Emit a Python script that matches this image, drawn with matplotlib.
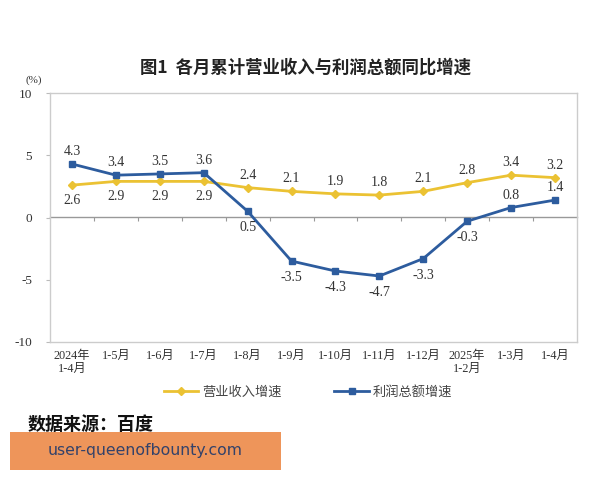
import matplotlib
matplotlib.use("Agg")
import matplotlib.pyplot as plt
from matplotlib.patches import Rectangle

categories = ["2024年\n1-4月", "1-5月", "1-6月", "1-7月", "1-8月", "1-9月", "1-10月",
              "1-11月", "1-12月", "2025年\n1-2月", "1-3月", "1-4月"]
revenue = [2.6, 2.9, 2.9, 2.9, 2.4, 2.1, 1.9, 1.8, 2.1, 2.8, 3.4, 3.2]
profit = [4.3, 3.4, 3.5, 3.6, 0.5, -3.5, -4.3, -4.7, -3.3, -0.3, 0.8, 1.4]
rev_pos = ["below", "below", "below", "below", "above", "above", "above", "above", "above", "above", "above", "above"]
pro_pos = ["above", "above", "above", "above", "below", "below", "below", "below", "below", "below", "above", "above"]
yticks = [-10, -5, 0, 5, 10]

serif = ["Liberation Serif", "Noto Sans CJK SC"]
cjk = ["Noto Sans CJK SC", "DejaVu Sans"]
c_rev = "#EBC233"
c_pro = "#2D5C9E"

fig = plt.figure(figsize=(6, 4.8), dpi=100)
ax = fig.add_axes([50/600, 1-342/480, 527/600, 249/480])
x = list(range(len(categories)))
l1, = ax.plot(x, revenue, color=c_rev, lw=2.0, marker="D", ms=4, label="营业收入增速")
l2, = ax.plot(x, profit, color=c_pro, lw=2.0, marker="s", ms=4, label="利润总额增速")

for xi, v, p in zip(x, revenue, rev_pos):
    off = 9 if p == "above" else -11
    ax.annotate(f"{v}", (xi, v), xytext=(0, off), textcoords="offset points",
                ha="center", va="center", fontsize=10, family=serif, color="#333333")
for xi, v, p in zip(x, profit, pro_pos):
    off = 9 if p == "above" else -12
    ax.annotate(f"{v}", (xi, v), xytext=(0, off), textcoords="offset points",
                ha="center", va="center", fontsize=10, family=serif, color="#333333")

ax.set_xlim(-0.5, len(categories) - 0.5)
ax.set_ylim(-10, 10)
ax.set_yticks(yticks)
ax.set_yticklabels([str(t) for t in yticks], family=serif, fontsize=9.5, color="#333333")
ax.set_xticks(x)
ax.set_xticklabels(categories, family=serif, fontsize=8.8, color="#333333", linespacing=1.1)
ax.tick_params(axis="x", length=0, pad=6)
ax.tick_params(axis="y", length=3, color="#bbbbbb", pad=10)
for s in ax.spines.values():
    s.set_color("#cccccc")
    s.set_linewidth(1)

sec = ax.secondary_xaxis(0.5)
sec.set_xticks([i + 0.5 for i in range(len(categories) - 1)])
sec.set_xticklabels([])
sec.tick_params(axis="x", direction="in", length=3, color="#999999")
for s in sec.spines.values():
    s.set_color("#999999")
    s.set_linewidth(1)

fig.text(305/600, 1-68/480, "图1  各月累计营业收入与利润总额同比增速", ha="center", va="center",
         fontsize=12.5, fontweight="bold", family=cjk, color="#222222")
fig.text(34/600, 1-80/480, "(%)", ha="center", va="center", fontsize=8, family=serif, color="#333333")

fig.legend(handles=[l1, l2], loc="center", bbox_to_anchor=(308/600, 1-392/480), ncol=2,
           frameon=False, prop={"family": cjk, "size": 9.5}, columnspacing=4,
           handlelength=2.6, handletextpad=0.3, labelcolor="#444444")

fig.text(28/600, 1-424/480, "数据来源：百度", ha="left", va="center", fontsize=13,
         fontweight="bold", family=cjk, color="#111111")
fig.patches.append(Rectangle((10/600, 1-470/480), 271/600, 38/480, transform=fig.transFigure,
                             facecolor="#EE955A", edgecolor="none"))
fig.text(145/600, 1-451/480, "user-queenofbounty.com", ha="center", va="center", fontsize=11.3,
         family=["DejaVu Sans"], color="#33426A")

fig.savefig("out.png", dpi=100, facecolor="white")
